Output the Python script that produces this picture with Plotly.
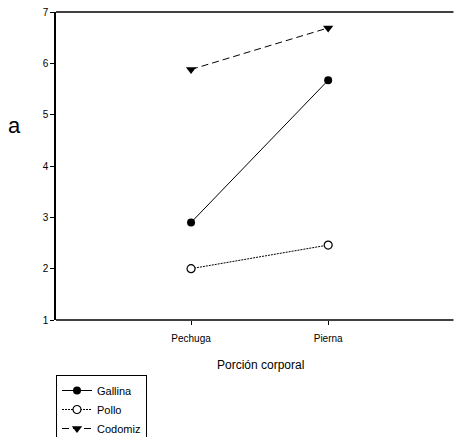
import plotly.graph_objects as go

categories = ["Pechuga", "Pierna"]
gallina = [2.9, 5.67]
pollo = [2.0, 2.46]
codorniz = [5.88, 6.69]
series_names = ["Gallina", "Pollo", "Codomiz"]
yticks = [1, 2, 3, 4, 5, 6, 7]

xpos = [1, 2]
fig = go.Figure()
fig.add_trace(go.Scatter(x=xpos, y=gallina, name=series_names[0], mode="lines+markers",
                         line=dict(color="black", width=1),
                         marker=dict(symbol="circle", size=8, color="black")))
fig.add_trace(go.Scatter(x=xpos, y=pollo, name=series_names[1], mode="lines+markers",
                         line=dict(color="black", width=1, dash="2px,1px"),
                         marker=dict(symbol="circle", size=8, color="white",
                                     line=dict(color="black", width=1.2))))
fig.add_trace(go.Scatter(x=xpos, y=codorniz, name=series_names[2], mode="lines+markers",
                         line=dict(color="black", width=1, dash="7px,4px"),
                         marker=dict(symbol="triangle-down", size=9, color="black")))

fig.update_layout(
    width=461, height=437,
    margin=dict(l=56, r=30, t=12, b=117, autoexpand=False),
    plot_bgcolor="white", paper_bgcolor="white",
    font=dict(family="Liberation Sans, Arial", color="black", size=10),
    showlegend=True,
    legend=dict(x=0, y=-0.1786, xanchor="left", yanchor="top",
                bordercolor="black", borderwidth=1, bgcolor="white",
                font=dict(size=11), itemwidth=30, tracegroupgap=0),
    xaxis=dict(range=[0.015, 2.75], tickvals=xpos, ticktext=categories,
               showline=False,
               ticks="outside", ticklen=4, tickcolor="black", ticklabelstandoff=5,
               showgrid=False, zeroline=False),
    yaxis=dict(range=[1, 7], tickvals=yticks,
               showline=True, linecolor="black", linewidth=1.5,
               ticks="outside", ticklen=4, tickcolor="black",
               showgrid=False, zeroline=False),
    shapes=[dict(type="line", xref="paper", yref="paper", x0=0, x1=1.06, y0=1, y1=1,
                 line=dict(color="black", width=1.5)),
            dict(type="line", xref="paper", yref="paper", x0=0, x1=1.06, y0=0, y1=0,
                 line=dict(color="black", width=1.5))],
    annotations=[dict(text="a", x=-0.112, y=0.633, xref="paper", yref="paper",
                      showarrow=False, font=dict(size=22), xanchor="center", yanchor="middle"),
                 dict(text="Porción corporal", x=0.544, y=-0.146, xref="paper", yref="paper",
                      showarrow=False, font=dict(size=12), xanchor="center", yanchor="middle")],
)
fig.write_html("out.html")
